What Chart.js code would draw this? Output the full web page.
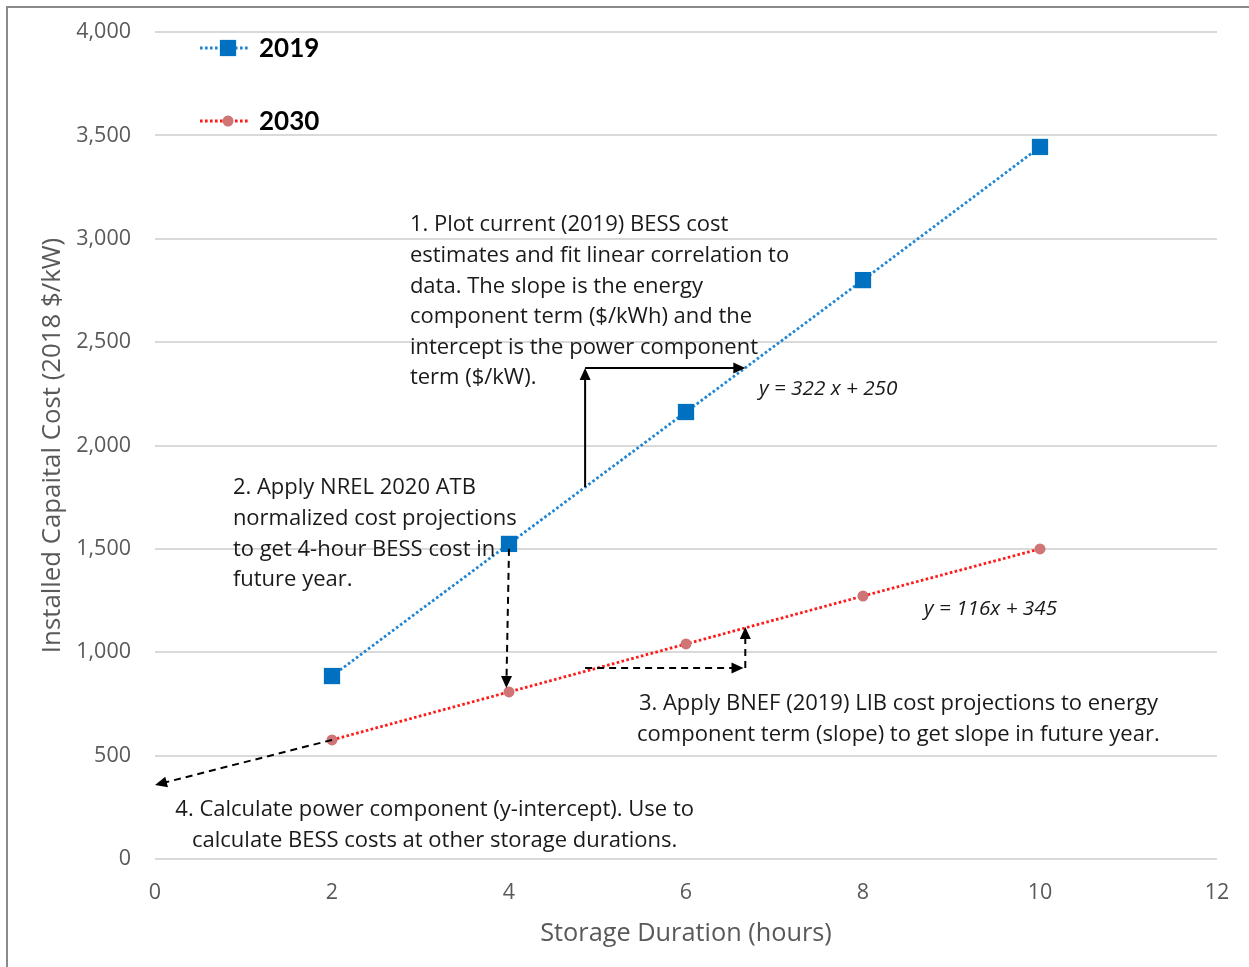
<!DOCTYPE html>
<html>
<head>
<meta charset="utf-8">
<script src="https://cdn.jsdelivr.net/npm/chart.js@4"></script>
<style>
  html, body { margin: 0; padding: 0; background: #fff; overflow: hidden; width: 1249px; height: 967px; }
  #frame { position: absolute; left: 6px; top: 6px; width: 1300px; height: 1000px;
           border-left: 2px solid #8a8a8a; border-top: 2px solid #8a8a8a; }
  #wrap { position: absolute; left: 0; top: 0; width: 1249px; height: 967px; }
</style>
</head>
<body>
<div id="frame"></div>
<div id="wrap"><canvas id="c" width="1249" height="967"></canvas></div>
<script>
// Storage duration (hours) and installed capital cost (2018 $/kW)
const durations = [2, 4, 6, 8, 10];
const cost2019 = [885, 1524, 2162, 2800, 3444];
const cost2030 = [576, 808, 1040, 1272, 1500];
const seriesNames = ['2019', '2030'];
const xTickStep = 2;
const yTickStep = 500;
const fitLabels = ['y = 322 x + 250', 'y = 116x + 345'];

const FONT = '"Open Sans", Lato, sans-serif';
const LEGEND_FONT = 'Lato, "Open Sans", sans-serif';
const BLUE = '#0070C0';
const BLUE_LINE = '#1f84d3';
const RED_LINE = '#ff1a1a';
const ROSE = '#d07575';

// Step notes: anchor in data units, lines of text
const notes = [
  { x: 2.88, y: 3066, align: 'left', lines: [
    '1. Plot current (2019) BESS cost',
    'estimates and fit linear correlation to',
    'data. The slope is the energy',
    'component term ($/kWh) and the',
    'intercept is the power component',
    'term ($/kW).'] },
  { x: 0.88, y: 1794, align: 'left', lines: [
    '2. Apply NREL 2020 ATB',
    'normalized cost projections',
    'to get 4-hour BESS cost in',
    'future year.'] },
  { x: 8.40, y: 750, align: 'center', lines: [
    '3. Apply BNEF (2019) LIB cost projections to energy',
    'component term (slope) to get slope in future year.'] },
  { x: 3.16, y: 237, align: 'center', lines: [
    '4. Calculate power component (y-intercept). Use to',
    'calculate BESS costs at other storage durations.'] }
];
const fitNotes = [
  { x: 6.825, y: 2273, text: fitLabels[0] },
  { x: 8.69, y: 1209, text: fitLabels[1] }
];
// Arrows as polylines in data units; head drawn at the last point
const arrows = [
  { dash: [], pts: [[4.86, 1799], [4.86, 2375]] },
  { dash: [], pts: [[4.86, 2375], [6.67, 2375]] },
  { dash: [7, 5], pts: [[4.0, 1500], [3.97, 827]] },
  { dash: [7, 5], pts: [[4.86, 924], [6.65, 924]] },
  { dash: [7, 5], pts: [[6.67, 924], [6.67, 1122]] },
  { dash: [7, 5], pts: [[2.0, 576], [0.0, 358]] }
];

function drawArrowHead(ctx, x0, y0, x1, y1) {
  const a = Math.atan2(y1 - y0, x1 - x0);
  const len = 12, half = 5.5;
  ctx.save();
  ctx.translate(x1, y1);
  ctx.rotate(a);
  ctx.beginPath();
  ctx.moveTo(0, 0);
  ctx.lineTo(-len, -half);
  ctx.lineTo(-len, half);
  ctx.closePath();
  ctx.fill();
  ctx.restore();
}

const notesPlugin = {
  id: 'notes',
  afterDatasetsDraw(chart) {
    const { ctx, scales: { x, y } } = chart;
    ctx.save();
    ctx.strokeStyle = '#000';
    ctx.fillStyle = '#000';
    ctx.lineWidth = 2;
    arrows.forEach(ar => {
      const p = ar.pts.map(q => [x.getPixelForValue(q[0]), y.getPixelForValue(q[1])]);
      const n = p.length;
      const [ax, ay] = p[n - 2], [bx, by] = p[n - 1];
      const d = Math.hypot(bx - ax, by - ay);
      const ex = bx - (bx - ax) / d * 10, ey = by - (by - ay) / d * 10;
      ctx.setLineDash(ar.dash);
      ctx.beginPath();
      ctx.moveTo(p[0][0], p[0][1]);
      for (let i = 1; i < n - 1; i++) ctx.lineTo(p[i][0], p[i][1]);
      ctx.lineTo(ex, ey);
      ctx.stroke();
      ctx.setLineDash([]);
      drawArrowHead(ctx, ax, ay, bx, by);
    });

    ctx.fillStyle = '#1a1a1a';
    ctx.textBaseline = 'middle';
    ctx.font = '22px ' + FONT;
    const lh = 30.6;
    notes.forEach(nt => {
      ctx.textAlign = nt.align;
      const px = x.getPixelForValue(nt.x), py = y.getPixelForValue(nt.y);
      nt.lines.forEach((s, i) => ctx.fillText(s, px, py + i * lh));
    });
    ctx.font = 'italic 20.7px ' + FONT;
    ctx.textAlign = 'left';
    fitNotes.forEach(f => ctx.fillText(f.text, x.getPixelForValue(f.x), y.getPixelForValue(f.y)));

    // legend block, upper left of the plot area
    const ds = chart.data.datasets;
    const lx = chart.chartArea.left + 45, rows = [48, 121];
    ds.forEach((d, i) => {
      const ly = rows[i];
      ctx.strokeStyle = d.borderColor;
      ctx.lineWidth = d.borderWidth;
      ctx.setLineDash(d.borderDash);
      ctx.beginPath();
      ctx.moveTo(lx, ly);
      ctx.lineTo(lx + 50, ly);
      ctx.stroke();
      ctx.setLineDash([]);
      ctx.fillStyle = d.pointBackgroundColor;
      Chart.helpers.drawPoint(ctx, { pointStyle: d.pointStyle, radius: d.pointRadius, rotation: 0, borderWidth: 0 }, lx + 28, ly);
      ctx.fillStyle = '#000';
      ctx.font = 'bold 26px ' + LEGEND_FONT;
      ctx.textAlign = 'left';
      ctx.fillText(d.label, lx + 59, ly + 1);
    });
    ctx.restore();
  }
};

new Chart(document.getElementById('c'), {
  type: 'scatter',
  data: {
    datasets: [
      {
        label: seriesNames[0],
        data: durations.map((d, i) => ({ x: d, y: cost2019[i] })),
        showLine: true,
        borderColor: BLUE_LINE,
        borderWidth: 2.8,
        borderDash: [2.6, 2.4],
        pointStyle: 'rect',
        pointRadius: 11.5,
        pointBackgroundColor: BLUE,
        pointBorderWidth: 0
      },
      {
        label: seriesNames[1],
        data: durations.map((d, i) => ({ x: d, y: cost2030[i] })),
        showLine: true,
        borderColor: RED_LINE,
        borderWidth: 2.8,
        borderDash: [2.6, 2.4],
        pointStyle: 'circle',
        pointRadius: 5.5,
        pointBackgroundColor: ROSE,
        pointBorderWidth: 0
      }
    ]
  },
  options: {
    responsive: false,
    animation: false,
    layout: { padding: { top: 32, right: 32, left: 0, bottom: 0 } },
    plugins: { legend: { display: false }, tooltip: { enabled: false } },
    scales: {
      x: {
        type: 'linear', min: 0, max: 12,
        ticks: { stepSize: xTickStep, color: '#595959', font: { family: FONT, size: 21.5 }, padding: 13 },
        grid: { display: false },
        border: { display: false },
        title: { display: true, text: 'Storage Duration (hours)', color: '#595959',
                 font: { family: FONT, size: 25.3 }, padding: { top: 0, bottom: 18 } },
        afterFit(s) { s.height = 967 - 859; s.paddingLeft = 0; s.paddingRight = 0; }
      },
      y: {
        type: 'linear', min: 0, max: 4000,
        ticks: { stepSize: yTickStep, color: '#595959', font: { family: FONT, size: 21.5 }, padding: 24,
                 callback: v => v.toLocaleString('en-US') },
        grid: { color: '#d9d9d9', lineWidth: 2, drawTicks: false },
        border: { display: false },
        title: { display: true, text: 'Installed Capaital Cost (2018 $/kW)', color: '#595959',
                 font: { family: FONT, size: 25.8 }, padding: { top: 37, bottom: 0 } },
        afterFit(s) { s.width = 155; s.paddingTop = 0; s.paddingBottom = 0; }
      }
    }
  },
  plugins: [notesPlugin]
});
</script>
</body>
</html>
